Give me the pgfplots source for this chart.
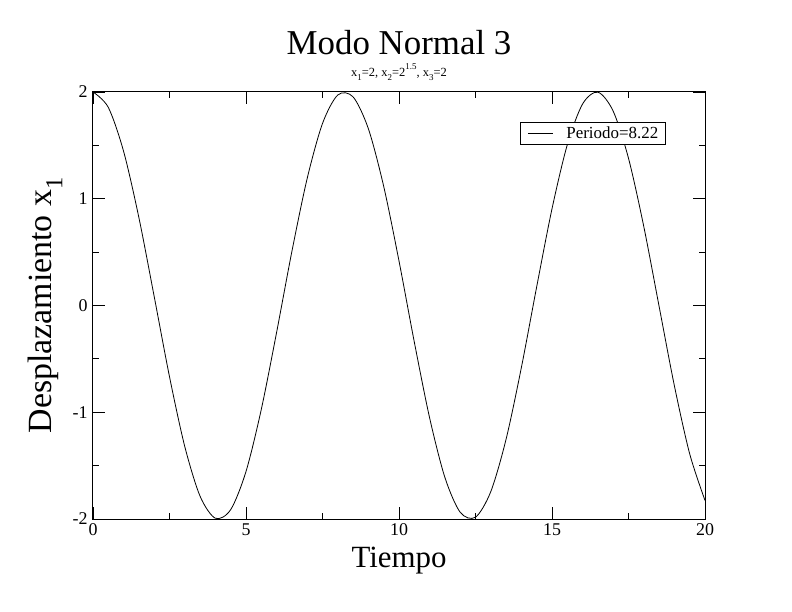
\documentclass[border=0pt]{standalone}
\usepackage{pgfplots}
\pgfplotsset{compat=1.18}
\usepackage{fontspec}
\setmainfont{Liberation Serif}
\newcommand{\sub}[1]{\raisebox{-0.32em}{\scalebox{0.72}{#1}}}
\newcommand{\super}[1]{\raisebox{0.55em}{\scalebox{0.72}{#1}}}
\begin{document}
\begin{tikzpicture}
\path[use as bounding box] (-93bp,-93bp) rectangle (699bp,519bp);
\begin{axis}[
  at={(0,0)}, anchor=south west,
  scale only axis, width=612bp, height=427bp,
  xmin=0, xmax=20, ymin=-2, ymax=2,
  xtick={0,5,10,15,20}, ytick={-2,-1,0,1,2},
  minor xtick={2.5,7.5,12.5,17.5}, minor ytick={-1.5,-0.5,0.5,1.5},
  tick align=inside, major tick length=12bp, minor tick length=6bp,
  xtick pos=both, ytick pos=both,
  axis line style={line width=1bp}, every tick/.style={black, line width=0.8bp},
  /pgf/number format/assume math mode=true,
  tick label style={font=\fontsize{18}{20}\selectfont},
  xticklabel style={yshift=-1bp},
  yticklabel style={xshift=-2bp},
  clip=false,
  legend style={at={(axis description cs:0.698,0.930)}, anchor=north west,
    font=\fontsize{17}{19}\selectfont, draw=black, line width=0.8bp,
    inner xsep=7bp, inner ysep=3bp, nodes={inner xsep=0bp, inner ysep=1.5bp}, legend cell align=left},
  legend image code/.code={\draw[black, line width=0.8bp] (0bp,0bp) -- (25bp,0bp); \path (38bp,0bp);},
]
\addplot[black, line width=0.8bp, smooth] coordinates {
(0,2.000) (0.5,1.856) (1,1.444) (1.5,0.823) (2,0.084) (2.5,-0.667) (3,-1.322) (3.5,-1.787)
(4,-1.993) (4.5,-1.912) (5,-1.555) (5.5,-0.973) (6,-0.252) (6.5,0.507) (7,1.191) (7.5,1.705)
(8,1.972) (8.5,1.954) (9,1.655) (9.5,1.116) (10,0.417) (10.5,-0.342) (11,-1.052) (11.5,-1.611)
(12,-1.937) (12.5,-1.983) (13,-1.743) (13.5,-1.252) (14,-0.580) (14.5,0.176) (15,0.906) (15.5,1.506)
(16,1.888) (16.5,1.998) (17,1.820) (17.5,1.379) (18,0.739) (18.5,-0.008) (19,-0.753) (19.5,-1.390)
(20,-1.826)};
\addlegendentry{Periodo=8.22}
\node[anchor=base, font=\fontsize{35}{40}\selectfont] at (axis description cs:0.5,1.088) {Modo Normal 3};
\node[anchor=base, font=\fontsize{12.5}{14}\selectfont] at (axis description cs:0.5,1.037)
  {x\sub{1}=2, x\sub{2}=2\super{1.5}, x\sub{3}=2};
\node[anchor=center, font=\fontsize{31}{36}\selectfont] at (axis description cs:0.5,-0.097) {Tiempo};
\node[anchor=center, rotate=90, font=\fontsize{34}{38}\selectfont] at (axis description cs:-0.078,0.5) {Desplazamiento x\sub{1}};
\end{axis}
\end{tikzpicture}
\end{document}
